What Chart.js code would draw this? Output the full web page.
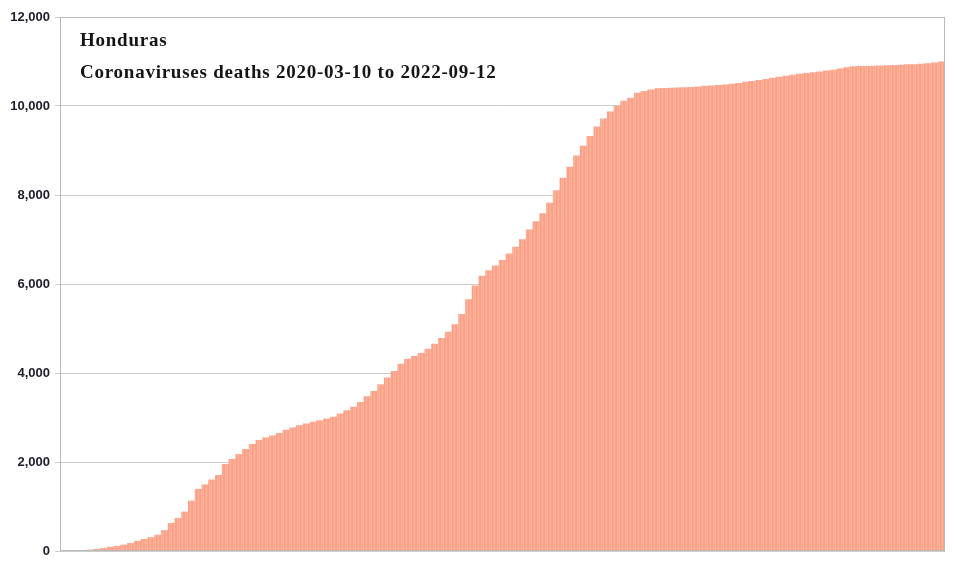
<!DOCTYPE html>
<html>
<head>
<meta charset="utf-8">
<title>Honduras coronavirus deaths</title>
<script src="https://cdn.jsdelivr.net/npm/chart.js@4"></script>
<style>
  html, body { margin: 0; padding: 0; background: #fff; }
  #wrap { position: relative; width: 957px; height: 577px; }
  #title {
    position: absolute; left: 80px; top: 24px;
    font-family: 'Liberation Serif', 'DejaVu Serif', serif;
    font-weight: bold; font-size: 19px; line-height: 32px; color: #151515;
    letter-spacing: 0.75px;
  }
</style>
</head>
<body>
<div id="wrap">
  <canvas id="chart" width="957" height="577"></canvas>
  <div id="title">Honduras<br>Coronaviruses deaths 2020-03-10 to 2022-09-12</div>
</div>
<script>
// weekly cumulative deaths
const startDate = '2020-03-10';
const deaths = [
  0, 0, 3, 12, 24, 38, 62, 87, 108, 137,
  173, 222, 262, 305, 358, 462, 624, 733, 878, 1125,
  1388, 1490, 1600, 1700, 1950, 2060, 2170, 2285, 2395, 2485,
  2545, 2590, 2645, 2715, 2770, 2820, 2860, 2895, 2930, 2970,
  3010, 3080, 3155, 3235, 3340, 3470, 3590, 3740, 3890, 4035,
  4200, 4315, 4375, 4440, 4540, 4650, 4780, 4920, 5090, 5320,
  5650, 5960, 6180, 6300, 6410, 6530, 6680, 6830, 7000, 7220,
  7400, 7580, 7820, 8100, 8380, 8630, 8880, 9100, 9320, 9530,
  9710, 9870, 10000, 10110, 10180, 10290, 10330, 10365, 10390, 10398,
  10403, 10410, 10415, 10422, 10433, 10445, 10455, 10466, 10478, 10490,
  10510, 10535, 10555, 10575, 10598, 10625, 10650, 10672, 10695, 10718,
  10735, 10750, 10770, 10790, 10810, 10835, 10862, 10885, 10890, 10893,
  10897, 10900, 10906, 10916, 10922, 10928, 10933, 10942, 10956, 10972,
  10990
];
const yTicks = [0, 2000, 4000, 6000, 8000, 10000, 12000];

// one label per week starting at the first date
const weeks = [];
const d0 = new Date(startDate + 'T00:00:00Z');
for (let i = 0; i < deaths.length; i++) {
  const d = new Date(d0.getTime() + i * 7 * 86400000);
  weeks.push(d.toISOString().slice(0, 10));
}

// striped salmon fill, like the thin bars of the original
function stripes() {
  const cols = ['#fc9f85', '#fdb09a', '#fca68c', '#fdb5a0', '#fb9c81', '#fca88f', '#fdb29c', '#fca287'];
  const c = document.createElement('canvas');
  c.width = cols.length; c.height = 1;
  const g = c.getContext('2d');
  cols.forEach((col, i) => { g.fillStyle = col; g.fillRect(i, 0, 1, 1); });
  return g.createPattern(c, 'repeat');
}

const frame = {
  id: 'frame',
  afterDraw(chart) {
    const a = chart.chartArea, ctx = chart.ctx;
    ctx.save();
    ctx.strokeStyle = '#b9b9b9';
    ctx.lineWidth = 1;
    ctx.strokeRect(Math.round(a.left) + 0.5, Math.round(a.top) + 0.5,
      Math.round(a.right - a.left) - 1, Math.round(a.bottom - a.top) - 1);
    ctx.restore();
  }
};

const ctx = document.getElementById('chart').getContext('2d');
new Chart(ctx, {
  type: 'bar',
  data: {
    labels: weeks,
    datasets: [{
      label: 'Deaths',
      data: deaths,
      backgroundColor: stripes(),
      borderWidth: 0,
      categoryPercentage: 1,
      barPercentage: 1
    }]
  },
  options: {
    responsive: false,
    animation: false,
    layout: { padding: { left: 0, right: 12, top: 17, bottom: 26 } },
    plugins: { legend: { display: false }, tooltip: { enabled: false } },
    scales: {
      x: {
        grid: { display: false },
        ticks: { display: false },
        border: { display: false },
        afterFit: (s) => { s.height = 0; }
      },
      y: {
        min: 0,
        max: 12000,
        z: 1,
        afterFit: (s) => { s.width = 60; },
        afterBuildTicks: (s) => { s.ticks = yTicks.map(v => ({ value: v })); },
        grid: { color: 'rgba(0,0,0,0.2)', tickLength: 5 },
        border: { display: false },
        ticks: {
          padding: 5,
          color: '#1c1c28',
          font: { family: "'Liberation Sans', Arial, sans-serif", weight: 'bold', size: 13 },
          callback: (v) => v.toLocaleString('en-US')
        }
      }
    }
  },
  plugins: [frame]
});
</script>
</body>
</html>
